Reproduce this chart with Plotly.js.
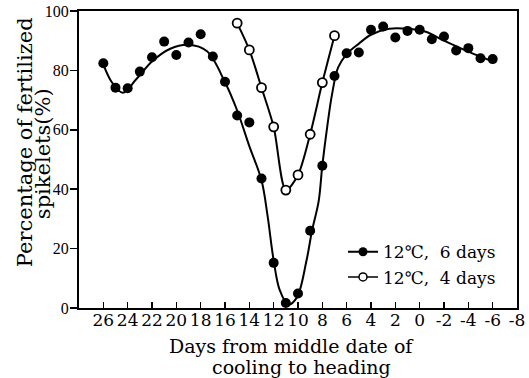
<!DOCTYPE html>
<html>
<head>
<meta charset="utf-8">
<script src="https://cdn.plot.ly/plotly-3.0.1.min.js"></script>
<style>html,body{margin:0;padding:0;background:#fff;}#chart{width:529px;height:378px;}</style>
</head>
<body>
<div id="chart"></div>
<script>
// 12°C, 6 days — observed points
const days6 = [26, 25, 24, 23, 22, 21, 20, 19, 18, 17, 16, 15, 14, 13, 12, 11, 10, 9, 8, 7, 6, 5, 4, 3, 2, 1, 0, -1, -2, -3, -4, -5, -6];
const pct6 = [82.4, 74.2, 74, 79.6, 84.4, 89.7, 85.2, 89.4, 92.2, 84.7, 76.2, 64.8, 62.5, 43.6, 15.2, 1.7, 4.9, 26, 47.9, 78.1, 85.8, 86, 93.7, 94.8, 91.1, 93.3, 93.7, 90.5, 91.4, 86.7, 87.5, 84.1, 83.8];
// 12°C, 6 days — fitted curve as drawn
const curve6X = [26, 25.3, 24.4, 23.3, 22, 20.5, 19, 17.5, 16, 15, 14, 13, 12.5, 12, 11.5, 10.8, 10.1, 9.3, 8.85, 8.3, 8, 7.6, 7.2, 6.7, 6, 5, 4, 2.5, 1, -0.5, -2, -4, -6];
const curve6Y = [82, 76, 72.5, 77, 83, 87.3, 88.6, 86.5, 76, 66.5, 54.5, 43, 31, 16, 6, 1.2, 3.5, 16, 26, 36, 48, 61, 72, 81, 85.5, 89, 92, 94, 94, 93, 90, 86.3, 83];
// 12°C, 4 days
const days4 = [15, 14, 13, 12, 11, 10, 9, 8, 7];
const pct4 = [95.9, 86.9, 74.2, 61, 39.7, 44.8, 58.5, 75.9, 91.7];
// axis ticks
const xTickVals = [26, 24, 22, 20, 18, 16, 14, 12, 10, 8, 6, 4, 2, 0, -2, -4, -6, -8];
const xTickText = ["26", "24", "22", "20", "18", "16", "14", "12", "10", "8", "6", "4", "2", "0", "-2", "-4", "-6", "-8"];
const yTickVals = [0, 20, 40, 60, 80, 100];
const seriesNames = ["12℃, \u00a06 days", "12℃, \u00a04 days"];
const yTitleLines = ["Percentage of fertilized", "spikelets(%)"];
const xTitleLines = ["Days from middle date of", "cooling to heading"];

const WIDE = "DejaVu Serif";
const NARROW = "Liberation Serif";
const traces = [
  {x: curve6X, y: curve6Y, mode: "lines", line: {shape: "spline", smoothing: 1, color: "#000", width: 2}, showlegend: false, hoverinfo: "skip"},
  {x: days6, y: pct6, mode: "markers", marker: {symbol: "circle", size: 10, color: "#000"}, showlegend: false},
  {x: days4, y: pct4, mode: "lines+markers", line: {shape: "spline", smoothing: 0.8, color: "#000", width: 2},
   marker: {symbol: "circle", size: 9, color: "#fff", line: {color: "#000", width: 1.8}}, showlegend: false},
  {x: [null], y: [null], name: seriesNames[0], mode: "lines+markers", line: {color: "#000", width: 2}, marker: {symbol: "circle", size: 9, color: "#000"}},
  {x: [null], y: [null], name: seriesNames[1], mode: "lines+markers", line: {color: "#000", width: 1.5}, marker: {symbol: "circle", size: 8, color: "#fff", line: {color: "#000", width: 1.5}}}
];

function px2x(px) { return (px - 79) / 438; }
function px2y(py) { return (307.7 - py) / 296.7; }

const annotations = [
  {text: yTitleLines[0], textangle: -90, xref: "paper", yref: "paper", x: px2x(25), y: px2y(142), xanchor: "center", yanchor: "middle", showarrow: false, font: {family: WIDE, size: 21, color: "#000"}},
  {text: yTitleLines[1], textangle: -90, xref: "paper", yref: "paper", x: px2x(43), y: px2y(154), xanchor: "center", yanchor: "middle", showarrow: false, font: {family: WIDE, size: 21, color: "#000"}},
  {text: xTitleLines[0], xref: "paper", yref: "paper", x: px2x(291), y: px2y(346), xanchor: "center", yanchor: "middle", showarrow: false, font: {family: WIDE, size: 19, color: "#000"}},
  {text: xTitleLines[1], xref: "paper", yref: "paper", x: px2x(301.7), y: px2y(367), xanchor: "center", yanchor: "middle", showarrow: false, font: {family: WIDE, size: 19, color: "#000"}}
];

const layout = {
  width: 529, height: 378,
  margin: {l: 79, r: 12, t: 11, b: 70},
  paper_bgcolor: "#fff", plot_bgcolor: "#fff",
  font: {family: WIDE, color: "#000", size: 17},
  showlegend: true,
  legend: {x: px2x(343), xanchor: "left", y: px2y(234), yanchor: "top", bgcolor: "rgba(0,0,0,0)", font: {size: 17, family: WIDE}, itemwidth: 30, tracegroupgap: 0},
  annotations: annotations,
  xaxis: {
    range: [28, -8], tickmode: "array", tickvals: xTickVals, ticktext: xTickText,
    ticks: "inside", ticklen: 6, tickwidth: 1.5, tickcolor: "#000",
    showline: true, linecolor: "#000", linewidth: 2, mirror: true,
    showgrid: false, zeroline: false, ticklabelstandoff: -4,
    tickfont: {size: 17, family: WIDE}
  },
  yaxis: {
    range: [0, 100], tickmode: "array", tickvals: yTickVals,
    ticks: "outside", ticklen: 7, tickwidth: 1.5, tickcolor: "#000",
    showline: true, linecolor: "#000", linewidth: 2, mirror: true,
    showgrid: false, zeroline: false, ticklabelstandoff: -2,
    tickfont: {size: 16, family: NARROW}
  }
};

Plotly.newPlot("chart", traces, layout, {staticPlot: true});
</script>
</body>
</html>
